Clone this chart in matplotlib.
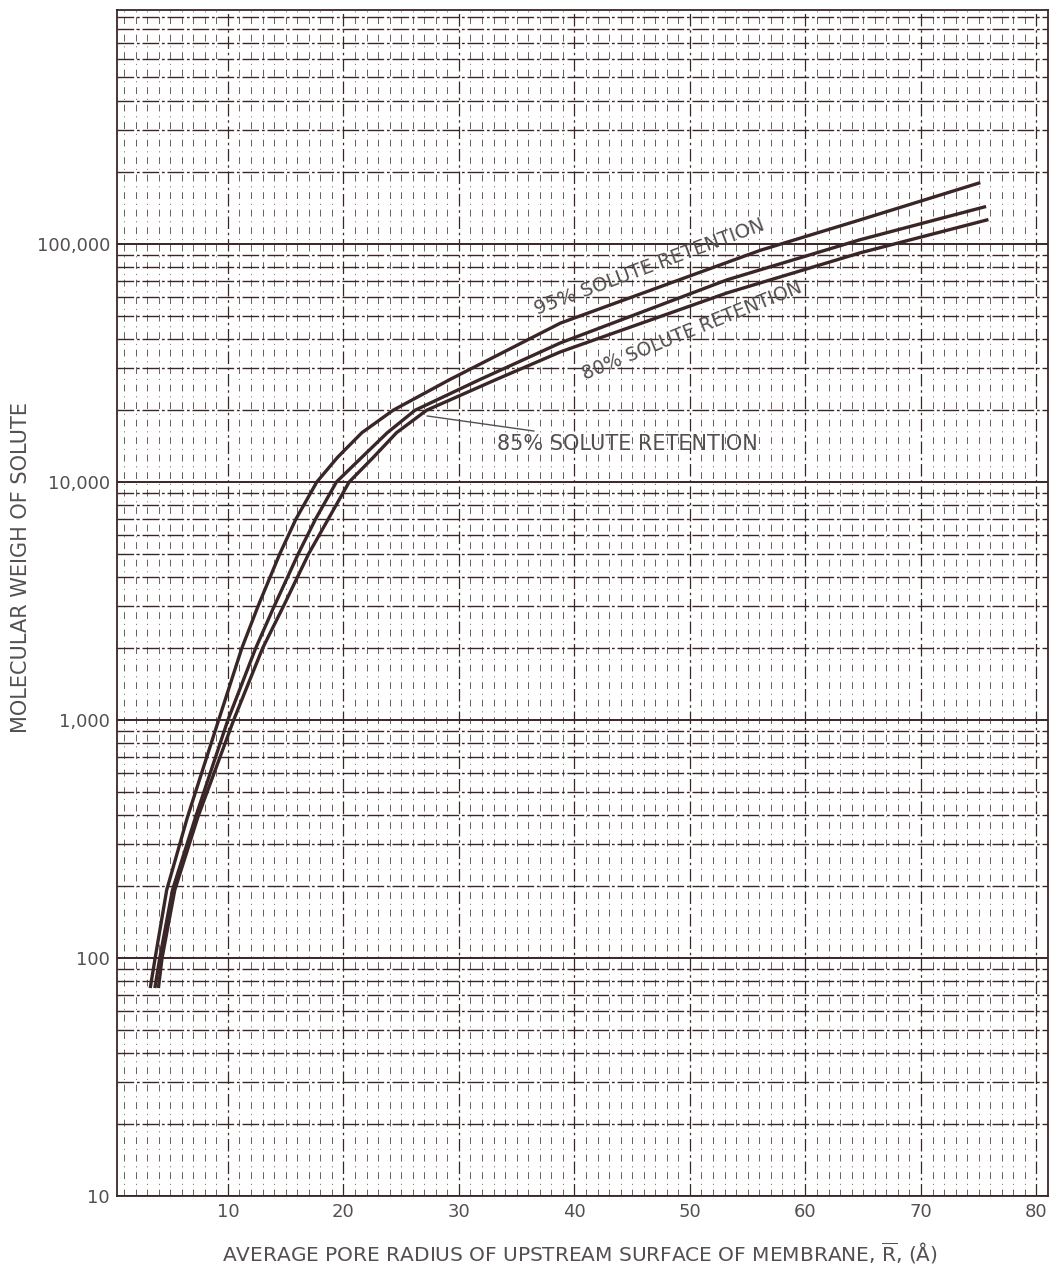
import numpy as np
import matplotlib.pyplot as plt
from matplotlib.ticker import FixedLocator, LogLocator, NullFormatter, FixedFormatter

plt.rcParams['font.family'] = ['DejaVu Sans']
plt.rcParams['mathtext.fontset'] = 'dejavusans'

# curves: pore radius (A) vs molecular weight
r95 = [3.3, 3.7, 4.7, 6.5, 9.2, 11.2, 12.6, 14.5, 15.9, 17.7, 19.5, 21.6, 24.3, 29.2, 38.8, 56.1, 64.7, 75.0]
mw95 = [76, 100, 193, 391, 1000, 2000, 3000, 5000, 7000, 10000, 12700, 16100, 20000, 26900, 46500, 94000, 126000, 180000]

r85 = [3.7, 4.1, 5.2, 7.2, 10.0, 12.4, 14.0, 16.1, 17.6, 19.4, 21.6, 23.8, 26.2, 31.8, 38.8, 53.2, 64.7, 75.5]
mw85 = [76, 100, 193, 391, 1000, 2000, 3000, 5000, 7000, 10000, 12700, 16100, 20000, 26900, 38400, 70600, 104000, 143000]

r80 = [4.0, 4.3, 5.4, 7.4, 10.5, 13.0, 14.8, 17.0, 18.7, 20.5, 22.6, 24.6, 27.2, 33.2, 38.8, 53.2, 64.7, 75.7]
mw80 = [76, 100, 193, 391, 1000, 2000, 3000, 5000, 7000, 10000, 12700, 16100, 20000, 26900, 35200, 62200, 91600, 126000]

xticks = [10, 20, 30, 40, 50, 60, 70, 80]
yticks = [10, 100, 1000, 10000, 100000]
ylabels = ['10', '100', '1,000', '10,000', '100,000']

ink = '#3a2626'
txt = '#555050'

fig = plt.figure(figsize=(10.6, 12.72), dpi=100)
ax = fig.add_axes([0.1104, 0.0597, 0.8783, 0.9324])
ax.set_yscale('log')
ax.set_xlim(0.4, 81.0)
ax.set_ylim(10, 9.6e5)

# log graph paper look
ax.yaxis.set_major_locator(FixedLocator(yticks + [1000000]))
ax.yaxis.set_major_formatter(FixedFormatter(ylabels + ['']))
ax.yaxis.set_minor_locator(LogLocator(base=10, subs=np.arange(2, 10)))
ax.yaxis.set_minor_formatter(NullFormatter())
ax.xaxis.set_major_locator(FixedLocator(xticks))
ax.xaxis.set_minor_locator(FixedLocator(np.arange(1, 81, 1)))
ax.grid(True, which='major', axis='y', color=ink, lw=1.4)
ax.grid(True, which='minor', axis='y', color=ink, lw=1.0, ls=(0, (12, 2, 2, 2)))
ax.grid(True, which='major', axis='x', color=ink, lw=0.9, ls=(0, (10, 3, 2, 3)))
ax.grid(True, which='minor', axis='x', color=ink, lw=0.7, ls=(0, (7, 5, 1, 5)), alpha=0.75)
ax.set_axisbelow(True)
ax.tick_params(which='both', length=0, labelsize=13, labelcolor=txt, pad=5)
for s in ax.spines.values():
    s.set_color(ink)
    s.set_linewidth(1.3)

ax.plot(r95, mw95, color=ink, lw=2.4)
ax.plot(r85, mw85, color=ink, lw=2.4)
ax.plot(r80, mw80, color=ink, lw=2.4)

ax.text(46.5, 80000, '95% SOLUTE RETENTION', rotation=20.5, ha='center', va='center',
        fontsize=14, color=txt)
ax.text(50.2, 43000, '80% SOLUTE RETENTION', rotation=22, ha='center', va='center',
        fontsize=13.5, color=txt)
ax.annotate('85% SOLUTE RETENTION', xy=(27.0, 19000), xytext=(33.3, 14400),
            ha='left', va='center', fontsize=15, color=txt,
            arrowprops=dict(arrowstyle='-', color=txt, lw=1.0))

ax.set_xlabel(r'AVERAGE PORE RADIUS OF UPSTREAM SURFACE OF MEMBRANE, $\overline{\mathrm{R}}$, ($\mathrm{\AA}$)',
              fontsize=14.5, color=txt)
ax.set_ylabel('MOLECULAR WEIGH OF SOLUTE', fontsize=15, color=txt)
ax.xaxis.set_label_coords(0.497, -0.037)
ax.yaxis.set_label_coords(-0.092, 0.530)

plt.savefig('out.png', dpi=100)
